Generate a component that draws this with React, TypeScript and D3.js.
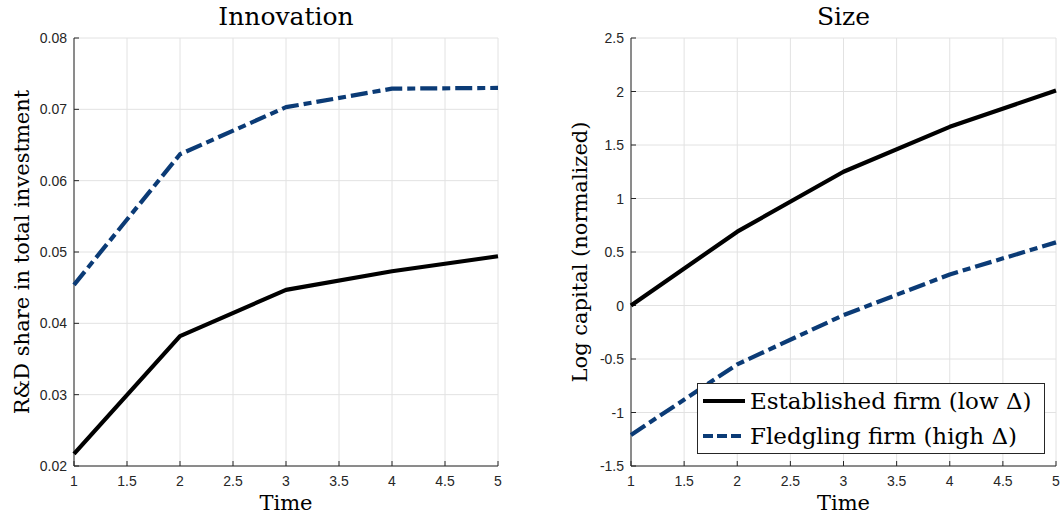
import React from "react";
import * as d3 from "d3";

const times = [1, 2, 3, 4, 5];
const xTicks = [1, 1.5, 2, 2.5, 3, 3.5, 4, 4.5, 5];
const xTickLabels = ["1", "1.5", "2", "2.5", "3", "3.5", "4", "4.5", "5"];

const innovEstablished = [0.0217, 0.0382, 0.0447, 0.0473, 0.0494];
const innovFledgling = [0.0454, 0.0637, 0.0703, 0.0729, 0.073];
const innovTicks = [0.02, 0.03, 0.04, 0.05, 0.06, 0.07, 0.08];
const innovTickLabels = ["0.02", "0.03", "0.04", "0.05", "0.06", "0.07", "0.08"];

const sizeEstablished = [0, 0.69, 1.25, 1.67, 2.01];
const sizeFledgling = [-1.21, -0.55, -0.09, 0.29, 0.59];
const sizeTicks = [-1.5, -1, -0.5, 0, 0.5, 1, 1.5, 2, 2.5];
const sizeTickLabels = ["-1.5", "-1", "-0.5", "0", "0.5", "1", "1.5", "2", "2.5"];

const legendLabels = ["Established firm (low \u0394)", "Fledgling firm (high \u0394)"];

const BLACK = "#000000";
const BLUE = "#0b3b76";
const AXIS = "#262626";
const GRID = "#e2e2e2";
const SERIF = "'DejaVu Serif', serif";
const SANS = "'Liberation Sans', Arial, sans-serif";
const DASH = "17 5 8 5";

type PanelProps = {
  left: number;
  right: number;
  top: number;
  bottom: number;
  yDomain: [number, number];
  yTicks: number[];
  yTickLabels: string[];
  title: string;
  yLabel: string;
  yLabelX: number;
  established: number[];
  fledgling: number[];
  legend?: boolean;
};

function Panel(p: PanelProps) {
  const x = d3.scaleLinear().domain([1, 5]).range([p.left, p.right]);
  const y = d3.scaleLinear().domain(p.yDomain).range([p.bottom, p.top]);
  const line = d3
    .line<number>()
    .x((_, i) => x(times[i]))
    .y((d) => y(d));
  const cx = (p.left + p.right) / 2;
  const cy = (p.top + p.bottom) / 2;
  return (
    <g>
      {xTicks.map((t) => (
        <line key={"gx" + t} x1={x(t)} x2={x(t)} y1={p.top} y2={p.bottom} stroke={GRID} strokeWidth={1} />
      ))}
      {p.yTicks.map((t) => (
        <line key={"gy" + t} x1={p.left} x2={p.right} y1={y(t)} y2={y(t)} stroke={GRID} strokeWidth={1} />
      ))}
      <line x1={p.left} x2={p.left} y1={p.top} y2={p.bottom} stroke={AXIS} strokeWidth={1} />
      <line x1={p.left} x2={p.right} y1={p.bottom} y2={p.bottom} stroke={AXIS} strokeWidth={1} />
      {xTicks.map((t, i) => (
        <g key={"xt" + t}>
          <line x1={x(t)} x2={x(t)} y1={p.bottom} y2={p.bottom - 5} stroke={AXIS} strokeWidth={1} />
          <text x={x(t)} y={486} textAnchor="middle" fontFamily={SANS} fontSize={14} fill={AXIS}>
            {xTickLabels[i]}
          </text>
        </g>
      ))}
      {p.yTicks.map((t, i) => (
        <g key={"yt" + t}>
          <line x1={p.left} x2={p.left + 5} y1={y(t)} y2={y(t)} stroke={AXIS} strokeWidth={1} />
          <text x={p.left - 7} y={y(t) + 5} textAnchor="end" fontFamily={SANS} fontSize={14} fill={AXIS}>
            {p.yTickLabels[i]}
          </text>
        </g>
      ))}
      <path d={line(p.established) || ""} fill="none" stroke={BLACK} strokeWidth={4.2} strokeLinejoin="round" />
      <path d={line(p.fledgling) || ""} fill="none" stroke={BLUE} strokeWidth={4.2} strokeDasharray={DASH} strokeLinejoin="round" />
      <text x={cx} y={25} textAnchor="middle" fontFamily={SERIF} fontSize={25} fill="#000">
        {p.title}
      </text>
      <text x={cx} y={510} textAnchor="middle" fontFamily={SERIF} fontSize={21} fill="#000">
        Time
      </text>
      <text
        transform={`translate(${p.yLabelX},${cy}) rotate(-90)`}
        textAnchor="middle"
        fontFamily={SERIF}
        fontSize={21}
        fill="#000"
      >
        {p.yLabel}
      </text>
      {p.legend && (
        <g>
          <rect x={697.5} y={383.5} width={347} height={70} fill="#fff" stroke={AXIS} strokeWidth={1} />
          <line x1={703} x2={745} y1={401} y2={401} stroke={BLACK} strokeWidth={4} />
          <line x1={703} x2={745} y1={436} y2={436} stroke={BLUE} strokeWidth={4} strokeDasharray="10 4" />
          <text x={750} y={409} fontFamily={SERIF} fontSize={23} fill="#000">
            {legendLabels[0]}
          </text>
          <text x={750} y={444} fontFamily={SERIF} fontSize={23} fill="#000">
            {legendLabels[1]}
          </text>
        </g>
      )}
    </g>
  );
}

export default function App() {
  return (
    <div>
      <style>{"body{margin:0;}"}</style>
      <svg width={1060} height={518} style={{ display: "block", background: "#fff" }}>
        <rect width={1060} height={518} fill="#fff" />
        <Panel
          left={74}
          right={498}
          top={38}
          bottom={466}
          yDomain={[0.02, 0.08]}
          yTicks={innovTicks}
          yTickLabels={innovTickLabels}
          title="Innovation"
          yLabel="R&D share in total investment"
          yLabelX={29}
          established={innovEstablished}
          fledgling={innovFledgling}
        />
        <Panel
          left={631}
          right={1056}
          top={38}
          bottom={466}
          yDomain={[-1.5, 2.5]}
          yTicks={sizeTicks}
          yTickLabels={sizeTickLabels}
          title="Size"
          yLabel="Log capital (normalized)"
          yLabelX={587}
          established={sizeEstablished}
          fledgling={sizeFledgling}
          legend
        />
      </svg>
    </div>
  );
}
